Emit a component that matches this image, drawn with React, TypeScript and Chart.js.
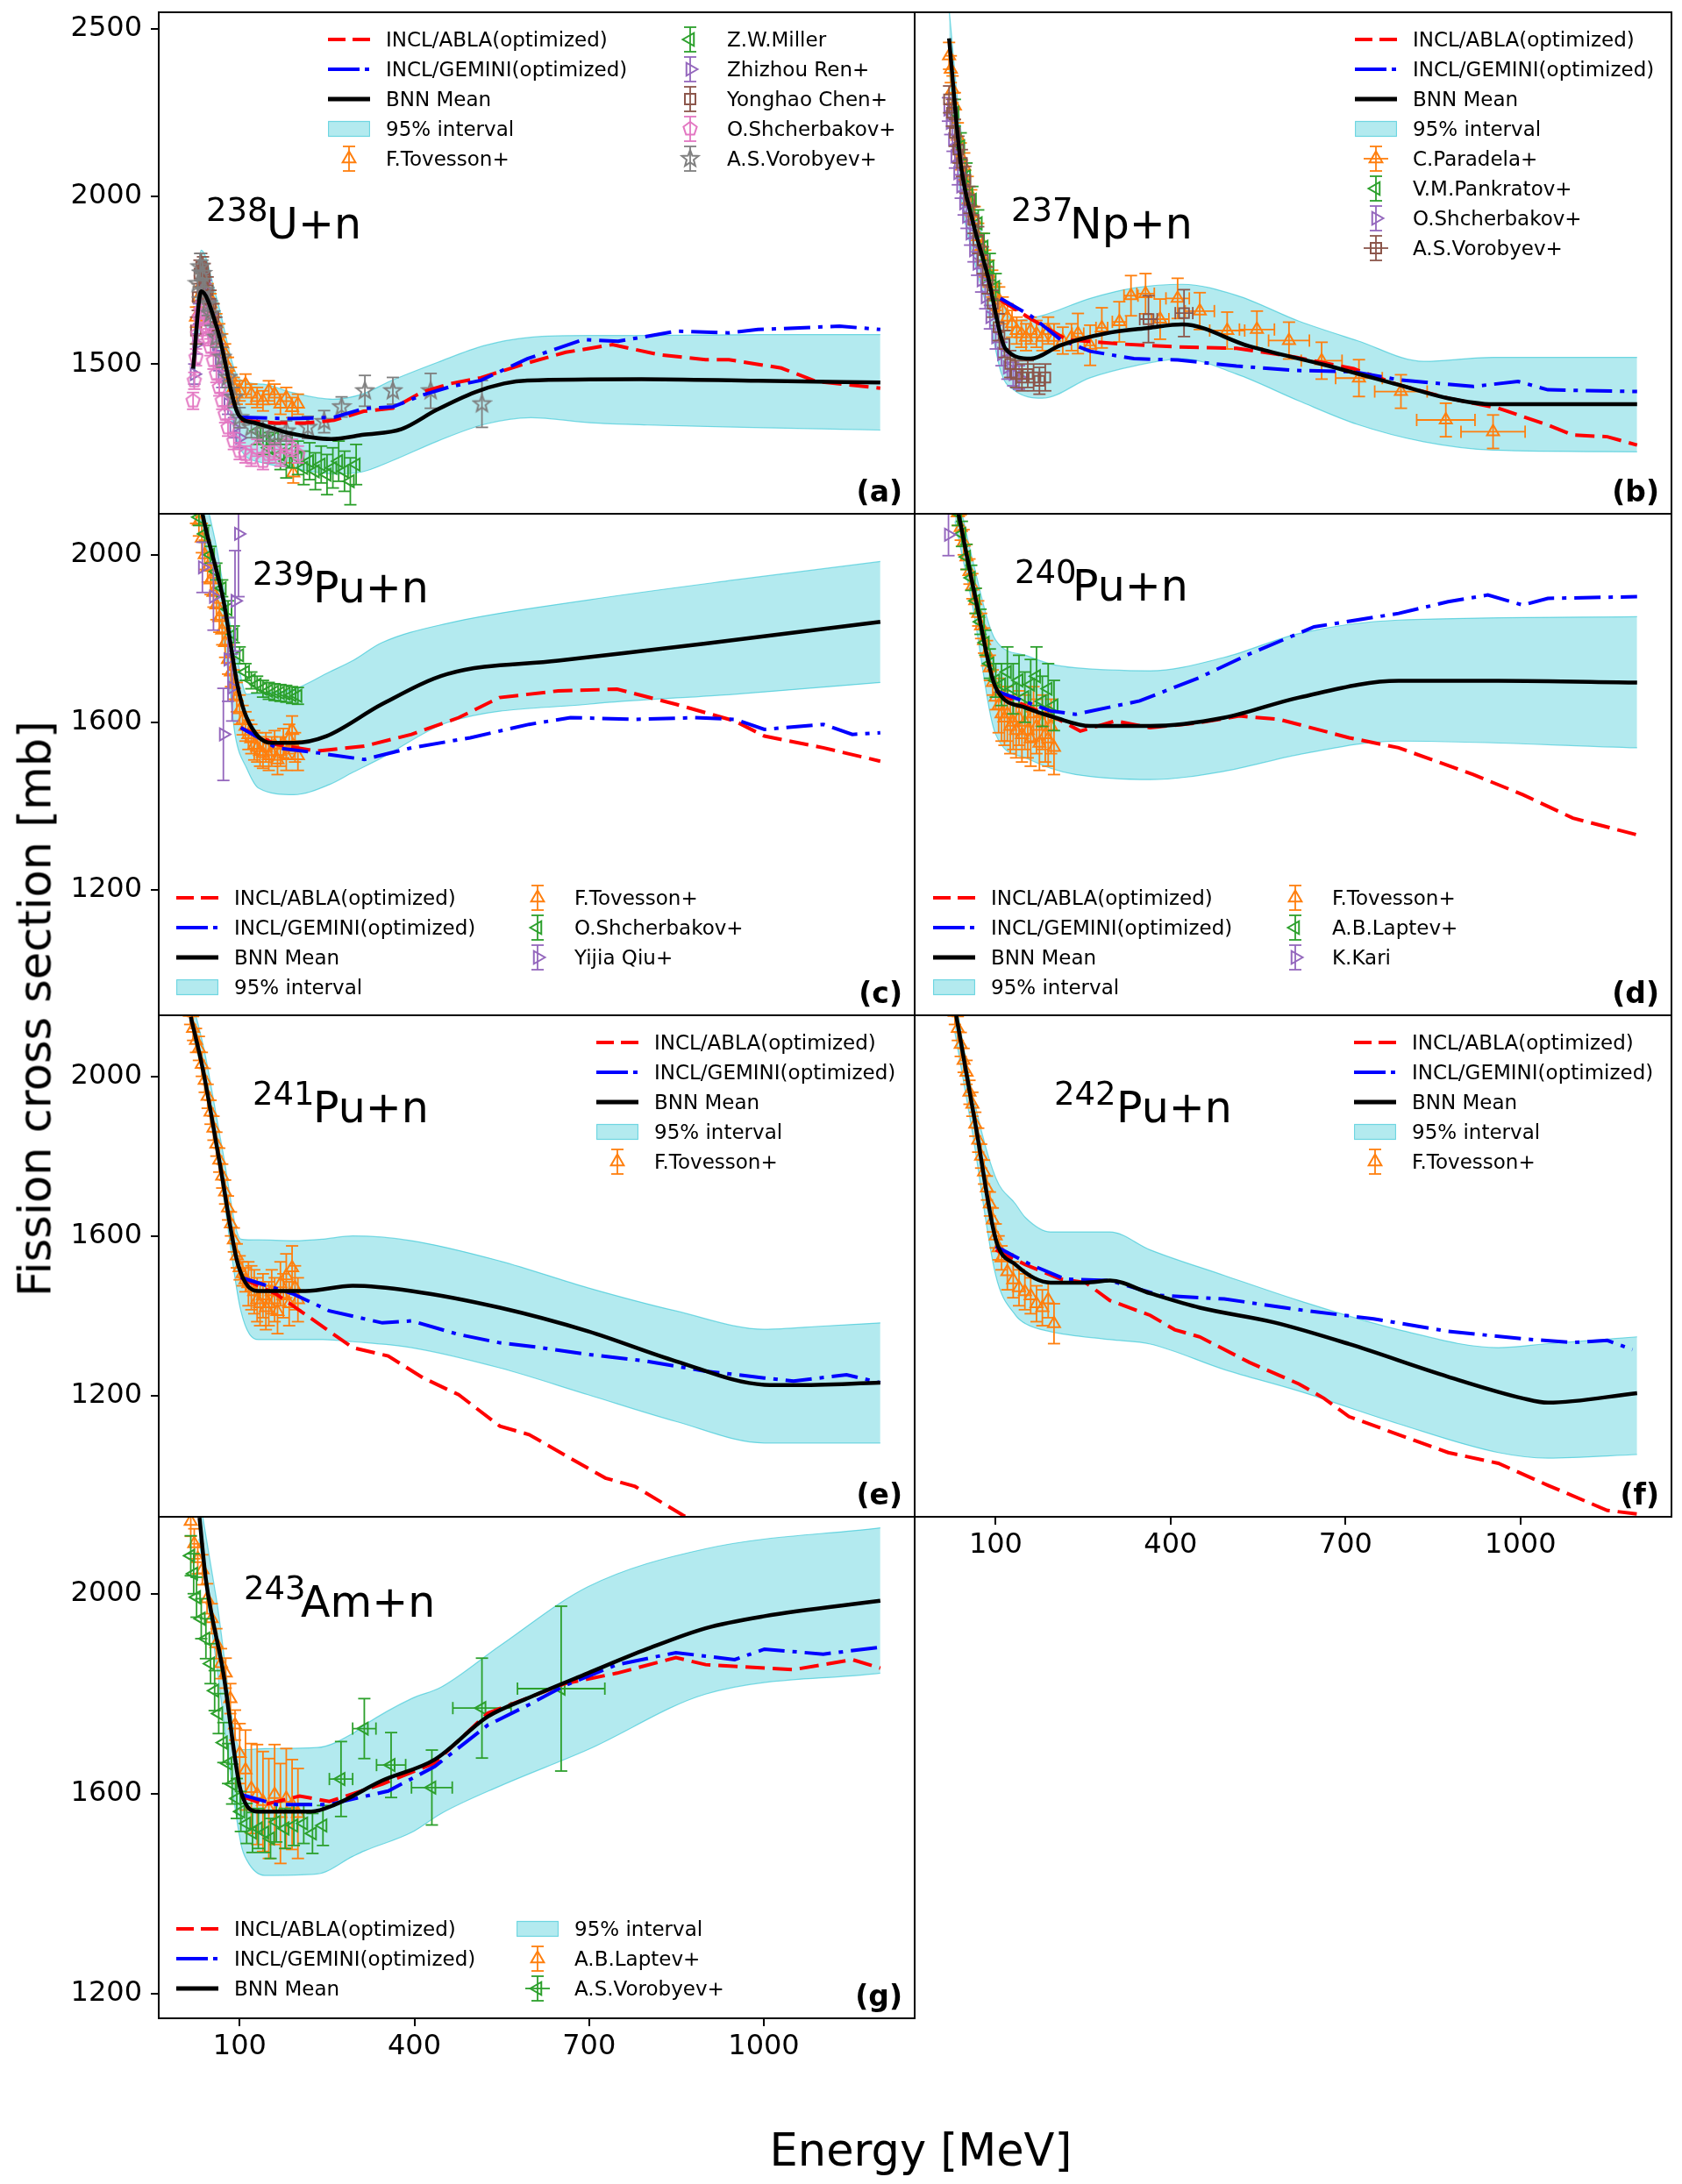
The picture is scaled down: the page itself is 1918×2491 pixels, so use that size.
import React, { useEffect, useRef } from "react";
import { Chart, registerables } from "chart.js";

Chart.register(...registerables);

const FONT = '"DejaVu Sans", "Liberation Sans", sans-serif';

// ---------- axes ----------
const X_MIN = -39;
const X_MAX = 1259;
const X_TICKS = [100, 400, 700, 1000];
const ROW_Y_MIN = [1053, 900, 896, 1150];
const ROW_Y_MAX = [2550, 2098, 2153, 2154];
const ROW_Y_TICKS = [
  [1500, 2000, 2500],
  [1200, 1600, 2000],
  [1200, 1600, 2000],
  [1200, 1600, 2000],
];

// ---------- colours ----------
const RED = "#ff0000";
const BLUE = "#0000ff";
const OR = "#ff7f0e";
const GR = "#2ca02c";
const PU = "#9467bd";
const BR = "#8c564b";
const PK = "#e377c2";
const GY = "#7f7f7f";
const BAND_FILL = "rgba(23,190,207,0.33)";
const BAND_EDGE = "rgba(23,190,207,0.55)";

// ---------- legend labels ----------
const L_RED = "INCL/ABLA(optimized)";
const L_BLUE = "INCL/GEMINI(optimized)";
const L_MEAN = "BNN Mean";
const L_BAND = "95% interval";

// ---------- panel (a) 238U+n ----------
const aBandE = [20, 34, 60, 100, 140, 190, 260, 310, 360, 440, 520, 600, 700, 800, 1000, 1200];
const aBandHi = [1540, 1840, 1700, 1455, 1440, 1415, 1395, 1410, 1450, 1505, 1555, 1580, 1585, 1585, 1588, 1588];
const aBandLo = [1430, 1620, 1540, 1250, 1205, 1190, 1172, 1178, 1210, 1270, 1320, 1340, 1325, 1318, 1310, 1303];
const aMeanE = [20, 34, 61, 99, 127, 187, 257, 313, 378, 438, 504, 554, 594, 790, 990, 1200];
const aMean = [1486, 1717, 1608, 1346, 1324, 1293, 1276, 1289, 1306, 1363, 1416, 1442, 1451, 1455, 1450, 1445];
const aRedE = [102, 162, 212, 262, 313, 363, 413, 463, 514, 594, 660, 740, 820, 900, 940, 1030, 1090, 1200];
const aRed = [1332, 1324, 1324, 1332, 1359, 1368, 1416, 1442, 1459, 1503, 1535, 1558, 1528, 1513, 1513, 1488, 1448, 1428];
const aBlueE = [102, 187, 262, 313, 363, 413, 463, 514, 594, 690, 750, 850, 940, 990, 1130, 1200];
const aBlue = [1341, 1337, 1341, 1367, 1372, 1407, 1433, 1451, 1516, 1573, 1568, 1598, 1593, 1603, 1613, 1603];
const aTovE = [25, 30, 35, 40, 45, 50, 55, 60, 65, 70, 75, 80, 85, 90, 95, 100, 110, 120, 130, 140, 150, 160, 170, 180, 190, 192, 200];
const aTovV = [1640, 1700, 1740, 1730, 1710, 1680, 1650, 1620, 1590, 1560, 1530, 1490, 1460, 1430, 1410, 1420, 1440, 1410, 1400, 1390, 1420, 1410, 1380, 1400, 1370, 1175, 1380];
const aMilE = [130, 140, 150, 160, 170, 180, 190, 200, 210, 220, 230, 240, 250, 260, 270, 280, 290, 300];
const aMilV = [1300, 1270, 1250, 1280, 1230, 1210, 1240, 1220, 1190, 1210, 1180, 1200, 1170, 1190, 1210, 1180, 1150, 1200];
const aMilErr = [40, 40, 45, 45, 45, 50, 50, 50, 50, 55, 55, 55, 60, 60, 60, 60, 70, 60];
const aRenE = [22, 26, 30, 34, 38, 42, 46, 50, 55, 60, 65, 70, 80, 90, 100];
const aRenV = [1470, 1560, 1650, 1720, 1740, 1720, 1690, 1650, 1610, 1560, 1510, 1460, 1380, 1310, 1280];
const aCheE = [25, 28, 31, 34, 37, 40, 45, 50, 55, 60];
const aCheV = [1600, 1700, 1770, 1790, 1780, 1760, 1720, 1680, 1640, 1600];
const aShcE = [20, 22, 25, 28, 31, 34, 38, 42, 46, 50, 55, 60, 65, 70, 75, 80, 90, 100, 110, 120, 130, 140, 150, 160, 170, 180, 190, 200];
const aShcV = [1390, 1450, 1520, 1590, 1640, 1660, 1640, 1610, 1580, 1550, 1510, 1470, 1430, 1390, 1350, 1310, 1270, 1240, 1230, 1220, 1250, 1210, 1230, 1240, 1220, 1260, 1250, 1230];
const aVorE = [28, 32, 36, 40, 45, 50, 60, 70, 80, 90, 100, 120, 140, 160, 180, 217, 245, 275, 315, 363, 428, 516];
const aVorV = [1740, 1790, 1770, 1720, 1680, 1650, 1580, 1520, 1460, 1400, 1340, 1310, 1300, 1290, 1300, 1311, 1328, 1372, 1420, 1420, 1420, 1381];
const aVorErr = [40, 40, 40, 35, 35, 35, 30, 30, 30, 30, 30, 30, 30, 30, 30, 33, 33, 30, 46, 40, 52, 70];

// ---------- panel (b) 237Np+n ----------
const bBandE = [20, 40, 60, 86, 110, 130, 180, 262, 340, 420, 513, 620, 720, 834, 953, 1200];
const bBandHi = [2560, 2200, 2000, 1830, 1690, 1630, 1645, 1696, 1728, 1738, 1705, 1628, 1570, 1508, 1520, 1520];
const bBandLo = [2380, 2000, 1830, 1660, 1470, 1424, 1398, 1459, 1495, 1516, 1470, 1390, 1320, 1268, 1243, 1238];
const bMeanE = [20, 40, 61, 86, 117, 160, 211, 287, 363, 420, 535, 663, 791, 876, 953, 1200];
const bMean = [2472, 2098, 1923, 1766, 1545, 1516, 1556, 1591, 1608, 1618, 1553, 1498, 1438, 1398, 1380, 1380];
const bRedE = [108, 161, 222, 312, 412, 513, 613, 714, 791, 876, 962, 1047, 1090, 1149, 1200];
const bRed = [1691, 1634, 1573, 1560, 1551, 1547, 1521, 1486, 1438, 1398, 1368, 1318, 1288, 1283, 1258];
const bBlueE = [108, 161, 211, 262, 337, 412, 513, 613, 714, 791, 919, 996, 1047, 1200];
const bBlue = [1696, 1643, 1573, 1538, 1516, 1512, 1494, 1481, 1477, 1453, 1433, 1448, 1423, 1418];
const bParE = [20, 23, 26, 30, 35, 40, 46, 52, 58, 64, 70, 76, 82, 88, 94, 100, 106, 112, 120, 128, 136, 144, 152, 160, 170, 180, 190, 200, 215, 230, 241, 262, 282, 312, 332, 357, 382, 412, 450, 497, 548, 603, 659, 723, 795, 872, 953];
const bParV = [2420, 2380, 2320, 2270, 2180, 2120, 2090, 2020, 1980, 1930, 1880, 1850, 1800, 1770, 1740, 1700, 1690, 1660, 1640, 1620, 1600, 1590, 1580, 1600, 1590, 1580, 1600, 1580, 1570, 1580, 1591, 1556, 1608, 1626, 1704, 1710, 1634, 1696, 1658, 1600, 1603, 1570, 1510, 1458, 1418, 1333, 1298];
const bParErr = [40, 40, 40, 40, 40, 40, 40, 40, 40, 40, 40, 40, 40, 40, 40, 40, 40, 40, 40, 40, 40, 40, 40, 40, 40, 40, 40, 40, 40, 40, 60, 60, 60, 60, 60, 60, 60, 60, 55, 55, 55, 55, 55, 55, 50, 50, 50];
const bParXerr = [0, 0, 0, 0, 0, 0, 0, 0, 0, 0, 0, 0, 0, 0, 0, 0, 0, 0, 0, 0, 0, 0, 0, 0, 0, 0, 0, 0, 0, 0, 10, 10, 10, 12, 12, 15, 15, 20, 25, 30, 30, 35, 35, 40, 45, 50, 55];
const bPanE = [30, 40, 50, 60, 70, 80, 90, 100];
const bPanV = [2250, 2150, 2060, 1990, 1920, 1850, 1790, 1730];
const bShcE = [18, 22, 26, 30, 35, 40, 45, 50, 56, 62, 68, 75, 82, 90, 100, 110, 120, 130, 140];
const bShcV = [2260, 2220, 2170, 2120, 2070, 2030, 1980, 1940, 1890, 1840, 1800, 1750, 1700, 1640, 1580, 1530, 1490, 1470, 1460];
const bVorE = [20, 25, 30, 36, 42, 48, 55, 62, 70, 78, 86, 95, 105, 115, 125, 135, 145, 155, 165, 175, 185, 362, 423];
const bVorV = [2290, 2250, 2190, 2140, 2100, 2050, 1990, 1930, 1870, 1810, 1750, 1680, 1610, 1560, 1500, 1470, 1460, 1470, 1460, 1450, 1460, 1634, 1652];
const bVorErr = [40, 40, 40, 40, 40, 40, 40, 40, 40, 40, 40, 40, 40, 40, 40, 40, 40, 40, 40, 40, 40, 70, 70];
const bVorXerr = [0, 0, 0, 0, 0, 0, 0, 0, 0, 0, 0, 0, 0, 0, 0, 0, 0, 0, 0, 0, 0, 15, 15];

// ---------- panel (c) 239Pu+n ----------
const cBandE = [30, 60, 80, 92, 112, 132, 193, 254, 294, 344, 456, 698, 950, 1200];
const cBandHi = [2200, 2020, 1860, 1780, 1667, 1670, 1679, 1720, 1747, 1790, 1836, 1892, 1940, 1984];
const cBandLo = [2100, 1900, 1720, 1571, 1490, 1443, 1427, 1451, 1480, 1515, 1599, 1643, 1667, 1695];
const cMeanE = [30, 36, 72, 97, 112, 153, 193, 249, 344, 456, 647, 900, 1200];
const cMean = [2150, 2099, 1892, 1683, 1611, 1551, 1551, 1567, 1643, 1715, 1747, 1788, 1840];
const cRedE = [102, 163, 233, 314, 395, 476, 546, 647, 748, 849, 950, 1001, 1102, 1200];
const cRed = [1587, 1547, 1531, 1543, 1571, 1611, 1659, 1675, 1679, 1643, 1603, 1567, 1539, 1507];
const cBlueE = [102, 163, 233, 314, 395, 496, 597, 668, 779, 880, 950, 1001, 1102, 1152, 1200];
const cBlue = [1587, 1539, 1527, 1511, 1539, 1563, 1595, 1611, 1607, 1611, 1607, 1583, 1595, 1571, 1575];
const cTovE = [25, 30, 35, 40, 45, 50, 55, 60, 65, 70, 75, 80, 85, 90, 95, 100, 105, 110, 115, 120, 125, 130, 135, 140, 145, 150, 155, 160, 165, 170, 175, 180, 185, 190, 195, 200];
const cTovV = [2110, 2080, 2040, 2000, 1970, 1940, 1910, 1880, 1850, 1820, 1790, 1750, 1720, 1690, 1660, 1630, 1605, 1590, 1570, 1560, 1545, 1540, 1530, 1525, 1540, 1520, 1530, 1545, 1510, 1530, 1550, 1520, 1560, 1580, 1540, 1520];
const cShcE = [30, 40, 50, 60, 70, 80, 90, 100, 110, 120, 130, 140, 150, 160, 170, 180, 190, 200];
const cShcV = [2090, 2050, 2000, 1960, 1920, 1870, 1810, 1760, 1720, 1700, 1690, 1680, 1675, 1672, 1670, 1668, 1665, 1663];
const cQiuE = [36, 55, 72, 80, 87, 92, 98];
const cQiuV = [1970, 1900, 1571, 1750, 1683, 1890, 2050];
const cQiuErr = [60, 80, 110, 100, 80, 120, 150];

// ---------- panel (d) 240Pu+n ----------
const dBandE = [30, 60, 100, 151, 194, 237, 365, 492, 620, 791, 1200];
const dBandHi = [2180, 1990, 1796, 1760, 1739, 1730, 1723, 1755, 1812, 1844, 1852];
const dBandLo = [2080, 1880, 1571, 1515, 1490, 1475, 1463, 1483, 1523, 1555, 1539];
const dMeanE = [36, 66, 100, 151, 202, 262, 365, 492, 620, 791, 962, 1200];
const dMean = [2099, 1892, 1683, 1635, 1611, 1591, 1591, 1611, 1659, 1699, 1699, 1695];
const dRedE = [100, 151, 202, 245, 305, 365, 450, 518, 586, 706, 791, 919, 1004, 1090, 1200];
const dRed = [1675, 1639, 1611, 1579, 1603, 1587, 1599, 1615, 1607, 1563, 1539, 1475, 1427, 1371, 1331];
const dBlueE = [100, 194, 237, 347, 450, 535, 646, 791, 876, 944, 1004, 1047, 1200];
const dBlue = [1675, 1627, 1619, 1651, 1707, 1763, 1828, 1860, 1888, 1904, 1880, 1896, 1900];
const dTovE = [30, 35, 40, 45, 50, 55, 60, 65, 70, 75, 80, 85, 90, 95, 100, 105, 110, 115, 120, 125, 130, 135, 140, 145, 150, 155, 160, 165, 170, 175, 180, 185, 190, 195, 200];
const dTovV = [2140, 2100, 2065, 2030, 1995, 1960, 1925, 1890, 1860, 1830, 1795, 1765, 1730, 1695, 1660, 1640, 1620, 1610, 1620, 1590, 1600, 1580, 1610, 1570, 1600, 1580, 1560, 1620, 1590, 1550, 1600, 1570, 1560, 1590, 1540];
const dTovErr = [30, 30, 30, 30, 30, 30, 30, 30, 30, 30, 30, 30, 30, 30, 30, 65, 65, 65, 65, 65, 65, 65, 65, 65, 65, 65, 65, 65, 65, 65, 65, 65, 65, 65, 65];
const dLapE = [35, 42, 50, 58, 66, 74, 82, 90, 100, 110, 120, 130, 140, 150, 160, 170, 180, 190, 200];
const dLapV = [2100, 2050, 1995, 1945, 1890, 1840, 1790, 1740, 1700, 1690, 1720, 1680, 1700, 1660, 1690, 1710, 1650, 1680, 1640];
const dLapErr = [30, 30, 30, 30, 30, 30, 30, 35, 40, 50, 60, 60, 60, 60, 60, 70, 60, 60, 60];
const dKarE = [19];
const dKarV = [2048];

// ---------- panel (e) 241Pu+n ----------
const eBandE = [20, 40, 70, 102, 132, 193, 243, 294, 395, 547, 698, 849, 1001, 1102, 1200];
const eBandHi = [2180, 2060, 1820, 1592, 1590, 1588, 1592, 1600, 1588, 1537, 1470, 1412, 1366, 1374, 1382];
const eBandLo = [2100, 1980, 1720, 1412, 1340, 1340, 1340, 1335, 1320, 1269, 1202, 1135, 1081, 1081, 1081];
const eMeanE = [16, 36, 67, 97, 132, 213, 294, 395, 547, 698, 849, 1001, 1051, 1200];
const eMean = [2149, 2023, 1772, 1529, 1462, 1462, 1475, 1462, 1420, 1361, 1286, 1227, 1226, 1232];
const eRedE = [102, 163, 213, 294, 355, 415, 476, 547, 597, 658, 728, 779, 860, 900];
const eRed = [1496, 1454, 1403, 1320, 1299, 1244, 1202, 1123, 1102, 1051, 993, 972, 901, 870];
const eBlueE = [102, 193, 254, 345, 395, 476, 547, 617, 698, 799, 900, 1001, 1051, 1142, 1200];
const eBlue = [1496, 1454, 1412, 1382, 1387, 1353, 1332, 1320, 1303, 1286, 1261, 1244, 1236, 1252, 1232];
const eTovE = [15, 20, 25, 30, 35, 40, 45, 50, 55, 60, 65, 70, 75, 80, 85, 90, 95, 100, 105, 110, 115, 120, 125, 130, 135, 140, 145, 150, 155, 160, 165, 170, 175, 180, 185, 190, 195, 200];
const eTovV = [2160, 2120, 2090, 2070, 2030, 1990, 1950, 1910, 1870, 1830, 1790, 1750, 1710, 1670, 1630, 1590, 1550, 1520, 1505, 1490, 1480, 1470, 1460, 1440, 1430, 1450, 1420, 1430, 1460, 1440, 1410, 1480, 1450, 1500, 1430, 1520, 1470, 1440];
const eTovErr = [30, 30, 30, 30, 30, 30, 30, 30, 30, 30, 30, 30, 30, 30, 30, 30, 30, 30, 30, 30, 55, 55, 55, 55, 55, 55, 55, 55, 55, 55, 55, 55, 55, 55, 55, 55, 55, 55];

// ---------- panel (f) 242Pu+n ----------
const fBandE = [30, 60, 100, 134, 151, 194, 296, 365, 492, 620, 791, 962, 1047, 1200];
const fBandHi = [2200, 1960, 1746, 1680, 1646, 1610, 1610, 1565, 1501, 1438, 1365, 1320, 1330, 1347];
const fBandLo = [2110, 1860, 1501, 1401, 1380, 1360, 1340, 1329, 1265, 1211, 1129, 1057, 1043, 1052];
const fMeanE = [32, 66, 100, 134, 194, 254, 296, 365, 450, 578, 706, 876, 1004, 1047, 1200];
const fMean = [2154, 1873, 1592, 1528, 1483, 1483, 1488, 1456, 1420, 1383, 1329, 1247, 1193, 1182, 1206];
const fRedE = [100, 151, 211, 254, 296, 365, 407, 450, 535, 620, 663, 706, 791, 876, 962, 1047, 1149, 1200];
const fRed = [1565, 1528, 1492, 1483, 1438, 1401, 1365, 1347, 1283, 1229, 1193, 1147, 1102, 1057, 1030, 975, 912, 903];
const fBlueE = [100, 160, 219, 296, 382, 492, 620, 748, 876, 1004, 1090, 1149, 1192];
const fBlue = [1574, 1528, 1492, 1488, 1451, 1442, 1415, 1392, 1361, 1342, 1333, 1338, 1315];
const fTovE = [30, 35, 40, 45, 50, 55, 60, 65, 70, 75, 80, 85, 90, 95, 100, 105, 110, 120, 130, 140, 150, 160, 170, 180, 190, 200];
const fTovV = [2160, 2120, 2080, 2040, 2010, 1960, 1930, 1880, 1840, 1800, 1760, 1720, 1680, 1640, 1600, 1570, 1545, 1510, 1490, 1470, 1460, 1450, 1430, 1420, 1440, 1380];
const fTovErr = [30, 30, 30, 30, 30, 30, 30, 30, 30, 30, 30, 30, 30, 30, 30, 30, 30, 45, 45, 45, 45, 45, 45, 45, 45, 50];

// ---------- panel (g) 243Am+n ----------
const gBandE = [30, 60, 102, 112, 143, 233, 294, 314, 395, 446, 547, 698, 900, 1200];
const gBandHi = [2200, 1990, 1688, 1688, 1690, 1692, 1720, 1737, 1790, 1813, 1896, 2014, 2090, 2132];
const gBandLo = [2110, 1860, 1500, 1467, 1436, 1439, 1474, 1485, 1522, 1560, 1615, 1688, 1799, 1841];
const gMeanE = [31, 42, 72, 102, 132, 223, 264, 345, 435, 526, 597, 698, 799, 900, 1001, 1200];
const gMean = [2152, 2028, 1841, 1605, 1564, 1564, 1578, 1626, 1668, 1754, 1792, 1841, 1889, 1931, 1955, 1986];
const gRedE = [102, 143, 203, 254, 345, 435, 526, 597, 658, 748, 849, 900, 1051, 1152, 1200];
const gRed = [1595, 1578, 1595, 1584, 1619, 1661, 1761, 1792, 1820, 1841, 1872, 1858, 1848, 1868, 1851];
const gBlueE = [102, 163, 254, 355, 435, 526, 597, 658, 748, 849, 950, 1001, 1102, 1200];
const gBlue = [1598, 1578, 1578, 1605, 1654, 1737, 1778, 1816, 1858, 1882, 1868, 1889, 1879, 1893];
const gLapE = [16, 22, 28, 36, 44, 52, 60, 68, 76, 84, 92, 100, 110, 120, 130, 140, 150, 160, 170, 180, 190, 200];
const gLapV = [2145, 2100, 2070, 2048, 1990, 1950, 1900, 1860, 1841, 1790, 1737, 1680, 1647, 1610, 1598, 1584, 1570, 1598, 1560, 1590, 1578, 1560];
const gLapErr = [30, 30, 30, 30, 30, 30, 30, 30, 30, 30, 30, 60, 80, 90, 100, 100, 100, 100, 100, 100, 90, 90];
const gVorE = [16, 21, 26, 34, 42, 50, 57, 64, 72, 80, 87, 95, 102, 112, 122, 132, 143, 153, 163, 178, 193, 210, 225, 243, 274, 314, 360, 430, 516, 652];
const gVorV = [2076, 2040, 1993, 1950, 1910, 1860, 1806, 1760, 1702, 1660, 1619, 1590, 1564, 1540, 1522, 1530, 1522, 1510, 1543, 1530, 1536, 1540, 1520, 1536, 1629, 1730, 1657, 1612, 1771, 1810];
const gVorErr = [40, 40, 40, 40, 40, 40, 40, 40, 40, 40, 40, 40, 40, 40, 40, 40, 40, 40, 40, 40, 40, 40, 40, 40, 75, 60, 65, 75, 100, 165];
const gVorXerr = [0, 0, 0, 0, 0, 0, 0, 0, 0, 0, 0, 0, 0, 0, 0, 0, 0, 0, 0, 0, 0, 0, 0, 0, 20, 20, 25, 35, 50, 75];

// ---------- layout ----------
const COL_L = [181, 1043];
const COL_W = [862, 863];
const ROW_T = [14, 586, 1158, 1730];
const ROW_H = 572;
const YW = 120;
const XH = 70;
const PAD = 40;

type Exp = {
  label: string;
  color: string;
  marker: string;
  E: number[];
  V: number[];
  err: number | number[];
  xerr?: number[];
};

type PanelSpec = {
  id: string;
  col: number;
  row: number;
  showX: boolean;
  showY: boolean;
  bandE: number[];
  bandHi: number[];
  bandLo: number[];
  meanE: number[];
  mean: number[];
  redE: number[];
  red: number[];
  blueE: number[];
  blue: number[];
  exps: Exp[];
  iso: { sup: string; el: string; supX: number; elX: number; base: number };
  letter: string;
  legend: { y0: number; cols: { x: number; items: (string | number)[] }[] };
};

const PANELS: PanelSpec[] = [
  {
    id: "a", col: 0, row: 0, showX: false, showY: true,
    bandE: aBandE, bandHi: aBandHi, bandLo: aBandLo, meanE: aMeanE, mean: aMean,
    redE: aRedE, red: aRed, blueE: aBlueE, blue: aBlue,
    exps: [
      { label: "F.Tovesson+", color: OR, marker: "^", E: aTovE, V: aTovV, err: 30 },
      { label: "Z.W.Miller", color: GR, marker: "<", E: aMilE, V: aMilV, err: aMilErr },
      { label: "Zhizhou Ren+", color: PU, marker: ">", E: aRenE, V: aRenV, err: 30 },
      { label: "Yonghao Chen+", color: BR, marker: "s", E: aCheE, V: aCheV, err: 40 },
      { label: "O.Shcherbakov+", color: PK, marker: "p", E: aShcE, V: aShcV, err: 25 },
      { label: "A.S.Vorobyev+", color: GY, marker: "*", E: aVorE, V: aVorV, err: aVorErr },
    ],
    iso: { sup: "238", el: "U", supX: 238, elX: 309, base: 272 },
    letter: "(a)",
    legend: { y0: 45, cols: [{ x: 374, items: ["red", "blue", "black", "band", 0] }, { x: 763, items: [1, 2, 3, 4, 5] }] },
  },
  {
    id: "b", col: 1, row: 0, showX: false, showY: false,
    bandE: bBandE, bandHi: bBandHi, bandLo: bBandLo, meanE: bMeanE, mean: bMean,
    redE: bRedE, red: bRed, blueE: bBlueE, blue: bBlue,
    exps: [
      { label: "C.Paradela+", color: OR, marker: "^", E: bParE, V: bParV, err: bParErr, xerr: bParXerr },
      { label: "V.M.Pankratov+", color: GR, marker: "<", E: bPanE, V: bPanV, err: 40 },
      { label: "O.Shcherbakov+", color: PU, marker: ">", E: bShcE, V: bShcV, err: 35 },
      { label: "A.S.Vorobyev+", color: BR, marker: "s", E: bVorE, V: bVorV, err: bVorErr, xerr: bVorXerr },
    ],
    iso: { sup: "237", el: "Np", supX: 1156, elX: 1225, base: 272 },
    letter: "(b)",
    legend: { y0: 45, cols: [{ x: 1545, items: ["red", "blue", "black", "band", 0, 1, 2, 3] }] },
  },
  {
    id: "c", col: 0, row: 1, showX: false, showY: true,
    bandE: cBandE, bandHi: cBandHi, bandLo: cBandLo, meanE: cMeanE, mean: cMean,
    redE: cRedE, red: cRed, blueE: cBlueE, blue: cBlue,
    exps: [
      { label: "F.Tovesson+", color: OR, marker: "^", E: cTovE, V: cTovV, err: 35 },
      { label: "O.Shcherbakov+", color: GR, marker: "<", E: cShcE, V: cShcV, err: 20 },
      { label: "Yijia Qiu+", color: PU, marker: ">", E: cQiuE, V: cQiuV, err: cQiuErr },
    ],
    iso: { sup: "239", el: "Pu", supX: 291, elX: 362, base: 687 },
    letter: "(c)",
    legend: { y0: 1023.5, cols: [{ x: 201, items: ["red", "blue", "black", "band"] }, { x: 589, items: [0, 1, 2] }] },
  },
  {
    id: "d", col: 1, row: 1, showX: false, showY: false,
    bandE: dBandE, bandHi: dBandHi, bandLo: dBandLo, meanE: dMeanE, mean: dMean,
    redE: dRedE, red: dRed, blueE: dBlueE, blue: dBlue,
    exps: [
      { label: "F.Tovesson+", color: OR, marker: "^", E: dTovE, V: dTovV, err: dTovErr },
      { label: "A.B.Laptev+", color: GR, marker: "<", E: dLapE, V: dLapV, err: dLapErr },
      { label: "K.Kari", color: PU, marker: ">", E: dKarE, V: dKarV, err: 50 },
    ],
    iso: { sup: "240", el: "Pu", supX: 1160, elX: 1228, base: 685 },
    letter: "(d)",
    legend: { y0: 1023.5, cols: [{ x: 1064, items: ["red", "blue", "black", "band"] }, { x: 1453, items: [0, 1, 2] }] },
  },
  {
    id: "e", col: 0, row: 2, showX: false, showY: true,
    bandE: eBandE, bandHi: eBandHi, bandLo: eBandLo, meanE: eMeanE, mean: eMean,
    redE: eRedE, red: eRed, blueE: eBlueE, blue: eBlue,
    exps: [{ label: "F.Tovesson+", color: OR, marker: "^", E: eTovE, V: eTovV, err: eTovErr }],
    iso: { sup: "241", el: "Pu", supX: 291, elX: 362, base: 1280 },
    letter: "(e)",
    legend: { y0: 1189, cols: [{ x: 680, items: ["red", "blue", "black", "band", 0] }] },
  },
  {
    id: "f", col: 1, row: 2, showX: true, showY: false,
    bandE: fBandE, bandHi: fBandHi, bandLo: fBandLo, meanE: fMeanE, mean: fMean,
    redE: fRedE, red: fRed, blueE: fBlueE, blue: fBlue,
    exps: [{ label: "F.Tovesson+", color: OR, marker: "^", E: fTovE, V: fTovV, err: fTovErr }],
    iso: { sup: "242", el: "Pu", supX: 1205, elX: 1278, base: 1280 },
    letter: "(f)",
    legend: { y0: 1189, cols: [{ x: 1544, items: ["red", "blue", "black", "band", 0] }] },
  },
  {
    id: "g", col: 0, row: 3, showX: true, showY: true,
    bandE: gBandE, bandHi: gBandHi, bandLo: gBandLo, meanE: gMeanE, mean: gMean,
    redE: gRedE, red: gRed, blueE: gBlueE, blue: gBlue,
    exps: [
      { label: "A.B.Laptev+", color: OR, marker: "^", E: gLapE, V: gLapV, err: gLapErr },
      { label: "A.S.Vorobyev+", color: GR, marker: "<", E: gVorE, V: gVorV, err: gVorErr, xerr: gVorXerr },
    ],
    iso: { sup: "243", el: "Am", supX: 281, elX: 348, base: 1844 },
    letter: "(g)",
    legend: { y0: 2200, cols: [{ x: 201, items: ["red", "blue", "black"] }, { x: 589, items: ["band", 0, 1] }] },
  },
];

// ---------- helpers ----------
const pts = (E: number[], V: number[]) => E.map((e, i) => ({ x: e, y: V[i] }));
const at = (v: number | number[] | undefined, i: number) => (v === undefined ? 0 : Array.isArray(v) ? v[i] : v);

const markerCache: Record<string, HTMLCanvasElement> = {};
function shapeCanvas(kind: string, color: string): HTMLCanvasElement {
  const key = kind + color;
  if (markerCache[key]) return markerCache[key];
  const c = document.createElement("canvas");
  c.width = 24;
  c.height = 24;
  const ctx = c.getContext("2d")!;
  ctx.strokeStyle = color;
  ctx.lineWidth = 2;
  ctx.beginPath();
  const n = kind === "p" ? 5 : 10;
  for (let i = 0; i < n; i++) {
    const a = -Math.PI / 2 + (i * 2 * Math.PI) / n;
    const r = kind === "p" ? 8 : i % 2 === 0 ? 10 : 4.2;
    const x = 12 + r * Math.cos(a);
    const y = 12 + r * Math.sin(a);
    if (i === 0) ctx.moveTo(x, y);
    else ctx.lineTo(x, y);
  }
  ctx.closePath();
  ctx.stroke();
  markerCache[key] = c;
  return c;
}

function chartMarker(m: string, color: string): { style: any; rot: number } {
  if (m === "^") return { style: "triangle", rot: 0 };
  if (m === "<") return { style: "triangle", rot: -90 };
  if (m === ">") return { style: "triangle", rot: 90 };
  if (m === "s") return { style: "rect", rot: 0 };
  return { style: shapeCanvas(m, color), rot: 0 };
}

function expDatasets(s: Exp, order: number) {
  const bars: any[] = [];
  s.E.forEach((e, i) => {
    const v = s.V[i];
    const er = at(s.err, i);
    bars.push({ x: e, y: v - er, r: 0 }, { x: e, y: v + er, r: 0 }, { x: e, y: null, r: 0 });
    const xe = at(s.xerr, i);
    if (xe > 0) {
      bars.push({ x: e - xe, y: v, r: 90 }, { x: e + xe, y: v, r: 90 }, { x: e + xe, y: null, r: 0 });
    }
  });
  const mk = chartMarker(s.marker, s.color);
  return [
    {
      data: bars,
      borderColor: s.color,
      borderWidth: 1.8,
      showLine: true,
      spanGaps: false,
      fill: false,
      tension: 0,
      pointStyle: "line",
      pointRadius: 7,
      pointBorderColor: s.color,
      pointBorderWidth: 1.8,
      pointRotation: (c: any) => (c.raw && c.raw.r) || 0,
      order,
      clip: 0,
    },
    {
      data: pts(s.E, s.V),
      showLine: false,
      fill: false,
      pointStyle: mk.style,
      pointRotation: mk.rot,
      pointRadius: 8,
      pointBorderColor: s.color,
      pointBackgroundColor: "rgba(0,0,0,0)",
      pointBorderWidth: 2,
      order: order - 1,
      clip: 0,
    },
  ];
}

const framePlugin = {
  id: "frame",
  afterDraw(chart: any) {
    const { ctx, chartArea: a } = chart;
    ctx.save();
    ctx.strokeStyle = "#000";
    ctx.lineWidth = 2;
    ctx.strokeRect(a.left, a.top, a.right - a.left, a.bottom - a.top);
    ctx.restore();
  },
};

function geom(p: PanelSpec) {
  const leftSpace = p.showY ? YW : PAD;
  const left = COL_L[p.col] - leftSpace;
  const top = ROW_T[p.row] - PAD;
  const w = leftSpace + COL_W[p.col] + PAD;
  const h = PAD + ROW_H + (p.showX ? XH : PAD);
  return { left, top, w, h };
}

function buildConfig(p: PanelSpec): any {
  const datasets: any[] = [];
  datasets.push({
    data: pts(p.bandE, p.bandHi),
    fill: "+1",
    backgroundColor: BAND_FILL,
    borderColor: BAND_EDGE,
    borderWidth: 1.2,
    pointRadius: 0,
    cubicInterpolationMode: "monotone",
    order: 100,
    clip: 0,
  });
  datasets.push({
    data: pts(p.bandE, p.bandLo),
    fill: false,
    borderColor: BAND_EDGE,
    borderWidth: 1.2,
    pointRadius: 0,
    cubicInterpolationMode: "monotone",
    order: 101,
    clip: 0,
  });
  p.exps.forEach((s, k) => datasets.push(...expDatasets(s, 60 - 2 * k)));
  datasets.push({
    data: pts(p.redE, p.red),
    borderColor: RED,
    borderWidth: 4,
    borderDash: [22, 9],
    pointRadius: 0,
    fill: false,
    tension: 0,
    order: 3,
    clip: 0,
  });
  datasets.push({
    data: pts(p.blueE, p.blue),
    borderColor: BLUE,
    borderWidth: 4,
    borderDash: [30, 9, 5, 9],
    pointRadius: 0,
    fill: false,
    tension: 0,
    order: 2,
    clip: 0,
  });
  datasets.push({
    data: pts(p.meanE, p.mean),
    borderColor: "#000",
    borderWidth: 4.5,
    pointRadius: 0,
    fill: false,
    cubicInterpolationMode: "monotone",
    order: 1,
    clip: 0,
  });

  const tickFont = { family: FONT, size: 32 };
  const xScale: any = {
    type: "linear",
    min: X_MIN,
    max: X_MAX,
    bounds: "data",
    display: p.showX,
    afterBuildTicks: (s: any) => {
      s.ticks = X_TICKS.map((v) => ({ value: v }));
    },
    grid: { display: true, drawOnChartArea: false, drawTicks: true, tickLength: 9, color: "#000", lineWidth: 2 },
    border: { display: false },
    ticks: { color: "#000", font: tickFont, padding: 4, maxRotation: 0, autoSkip: false, callback: (v: any) => String(v) },
  };
  if (p.showX) {
    xScale.afterFit = (s: any) => {
      s.height = XH;
    };
  }
  const yScale: any = {
    type: "linear",
    min: ROW_Y_MIN[p.row],
    max: ROW_Y_MAX[p.row],
    bounds: "data",
    display: p.showY,
    afterBuildTicks: (s: any) => {
      s.ticks = ROW_Y_TICKS[p.row].map((v) => ({ value: v }));
    },
    grid: { display: true, drawOnChartArea: false, drawTicks: true, tickLength: 9, color: "#000", lineWidth: 2 },
    border: { display: false },
    ticks: { color: "#000", font: tickFont, padding: 10, autoSkip: false, callback: (v: any) => String(v) },
  };
  if (p.showY) {
    yScale.afterFit = (s: any) => {
      s.width = YW;
    };
  }
  return {
    type: "line",
    data: { datasets },
    plugins: [framePlugin],
    options: {
      animation: false,
      responsive: false,
      maintainAspectRatio: false,
      events: [],
      layout: {
        padding: { left: p.showY ? 0 : PAD, right: PAD, top: PAD, bottom: p.showX ? 0 : PAD },
      },
      plugins: { legend: { display: false }, tooltip: { enabled: false } },
      scales: { x: xScale, y: yScale },
    },
  };
}

function Panel({ p }: { p: PanelSpec }) {
  const ref = useRef<HTMLCanvasElement>(null);
  useEffect(() => {
    const chart = new Chart(ref.current as HTMLCanvasElement, buildConfig(p));
    return () => chart.destroy();
  }, [p]);
  const g = geom(p);
  return (
    <canvas
      ref={ref}
      width={g.w}
      height={g.h}
      style={{ position: "absolute", left: g.left, top: g.top, width: g.w, height: g.h }}
    />
  );
}

// ---------- legend handles ----------
function svgMarker(m: string, color: string, cx: number, cy: number) {
  const common = { fill: "none", stroke: color, strokeWidth: 2 };
  const poly = (n: number, r1: number, r2: number, rot: number) => {
    const out: string[] = [];
    for (let i = 0; i < n; i++) {
      const a = ((rot - 90) * Math.PI) / 180 + (i * 2 * Math.PI) / n;
      const r = i % 2 === 0 ? r1 : r2;
      out.push(`${cx + r * Math.cos(a)},${cy + r * Math.sin(a)}`);
    }
    return out.join(" ");
  };
  if (m === "^") return <polygon points={poly(3, 8.5, 8.5, 0)} {...common} />;
  if (m === "<") return <polygon points={poly(3, 8.5, 8.5, -90)} {...common} />;
  if (m === ">") return <polygon points={poly(3, 8.5, 8.5, 90)} {...common} />;
  if (m === "s") return <rect x={cx - 6} y={cy - 6} width={12} height={12} {...common} />;
  if (m === "p") return <polygon points={poly(5, 8, 8, 0)} {...common} />;
  return <polygon points={poly(10, 10, 4.2, 0)} {...common} />;
}

function Handle({ item, p }: { item: string | number; p: PanelSpec }) {
  const W = 48;
  const H = 34;
  const cy = 17;
  if (item === "red")
    return (
      <svg width={W} height={H}>
        <line x1={0} y1={cy} x2={48} y2={cy} stroke={RED} strokeWidth={4} strokeDasharray="20 8" />
      </svg>
    );
  if (item === "blue")
    return (
      <svg width={W} height={H}>
        <line x1={0} y1={cy} x2={48} y2={cy} stroke={BLUE} strokeWidth={4} strokeDasharray="36 6 5 6" />
      </svg>
    );
  if (item === "black")
    return (
      <svg width={W} height={H}>
        <line x1={0} y1={cy} x2={48} y2={cy} stroke="#000" strokeWidth={5} />
      </svg>
    );
  if (item === "band")
    return (
      <svg width={W} height={H}>
        <rect x={0.5} y={cy - 8.5} width={47} height={17} fill={BAND_FILL} stroke={BAND_EDGE} strokeWidth={1.2} />
      </svg>
    );
  const s = p.exps[item as number];
  const hasX = !!s.xerr;
  return (
    <svg width={W} height={H}>
      <line x1={24} y1={3} x2={24} y2={31} stroke={s.color} strokeWidth={1.8} />
      <line x1={17} y1={3} x2={31} y2={3} stroke={s.color} strokeWidth={1.8} />
      <line x1={17} y1={31} x2={31} y2={31} stroke={s.color} strokeWidth={1.8} />
      {hasX ? <line x1={10} y1={cy} x2={38} y2={cy} stroke={s.color} strokeWidth={1.8} /> : null}
      {svgMarker(s.marker, s.color, 24, cy)}
    </svg>
  );
}

function itemLabel(item: string | number, p: PanelSpec) {
  if (item === "red") return L_RED;
  if (item === "blue") return L_BLUE;
  if (item === "black") return L_MEAN;
  if (item === "band") return L_BAND;
  return p.exps[item as number].label;
}

function Overlay({ p }: { p: PanelSpec }) {
  const plotR = COL_L[p.col] + COL_W[p.col];
  const plotB = ROW_T[p.row] + ROW_H;
  const els: any[] = [];
  p.legend.cols.forEach((c, ci) => {
    c.items.forEach((it, ri) => {
      const cy = p.legend.y0 + ri * 34;
      els.push(
        <div key={`h${ci}-${ri}`} style={{ position: "absolute", left: c.x, top: cy - 17, width: 48, height: 34 }}>
          <Handle item={it} p={p} />
        </div>
      );
      els.push(
        <div
          key={`t${ci}-${ri}`}
          style={{ position: "absolute", left: c.x + 66, top: cy - 17, height: 34, lineHeight: "34px", fontSize: 23, whiteSpace: "nowrap" }}
        >
          {itemLabel(it, p)}
        </div>
      );
    });
  });
  const SUP = 37;
  const MAIN = 49;
  return (
    <>
      {els}
      <div
        style={{ position: "absolute", left: p.iso.supX - 3, top: p.iso.base - 20 - 0.846 * SUP, fontSize: SUP, lineHeight: `${SUP}px`, whiteSpace: "nowrap" }}
      >
        {p.iso.sup}
      </div>
      <div
        style={{ position: "absolute", left: p.iso.elX - 5, top: p.iso.base - 0.846 * MAIN, fontSize: MAIN, lineHeight: `${MAIN}px`, whiteSpace: "nowrap" }}
      >
        {p.iso.el}+n
      </div>
      <div
        style={{
          position: "absolute",
          left: plotR - 14 - 200,
          width: 200,
          textAlign: "right",
          top: plotB - 14 - 0.846 * 33,
          fontSize: 33,
          lineHeight: "33px",
          fontWeight: "bold",
        }}
      >
        {p.letter}
      </div>
    </>
  );
}

export default function App() {
  return (
    <div
      style={{
        position: "absolute",
        left: 0,
        top: 0,
        width: 1918,
        height: 2491,
        background: "#fff",
        fontFamily: FONT,
        color: "#000",
      }}
    >
      {PANELS.map((p) => (
        <Panel key={p.id} p={p} />
      ))}
      {PANELS.map((p) => (
        <Overlay key={p.id + "o"} p={p} />
      ))}
      <div
        style={{
          position: "absolute",
          left: 39.5 - 400,
          top: 1150 - 25.5,
          width: 800,
          height: 51,
          lineHeight: "51px",
          fontSize: 51,
          textAlign: "center",
          transform: "rotate(-90deg)",
          whiteSpace: "nowrap",
        }}
      >
        Fission cross section [mb]
      </div>
      <div
        style={{
          position: "absolute",
          left: 1050 - 400,
          top: 2470 - 0.846 * 51,
          width: 800,
          lineHeight: "51px",
          fontSize: 51,
          textAlign: "center",
          whiteSpace: "nowrap",
        }}
      >
        Energy [MeV]
      </div>
    </div>
  );
}
